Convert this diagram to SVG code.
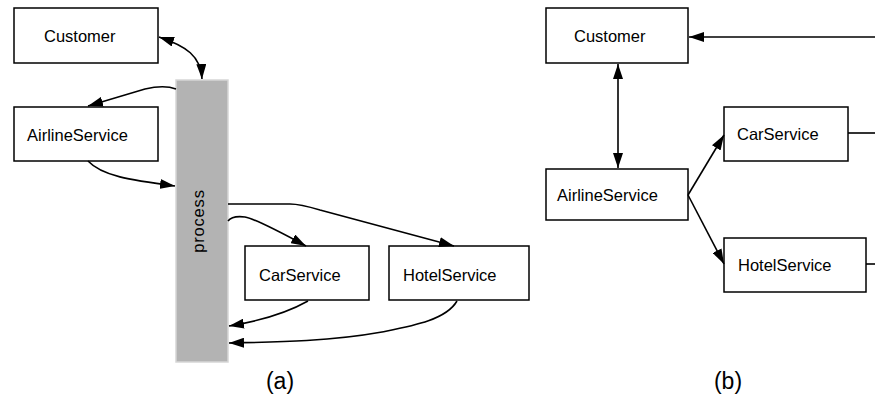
<svg xmlns="http://www.w3.org/2000/svg" width="875" height="400" viewBox="0 0 875 400">
  <style>
    .box { fill: #ffffff; stroke: #000000; stroke-width: 1.5; }
    .lbl { font-family: "Liberation Sans", Arial, Helvetica, sans-serif; font-size: 16.5px; fill: #000000; }
    .cap { font-family: "Liberation Sans", Arial, Helvetica, sans-serif; font-size: 23px; fill: #000000; text-anchor: middle; }
    .bar { fill: #b3b3b3; stroke: #d6d6d6; stroke-width: 1.5; }
    .edge { fill: none; stroke: #000000; stroke-width: 1.6; }
    .arr { marker-end: url(#head); }
    .both { marker-start: url(#head); marker-end: url(#head); }
  </style>
  <defs>
    <marker id="head" markerUnits="userSpaceOnUse" markerWidth="15" markerHeight="10" refX="15" refY="5" orient="auto-start-reverse" viewBox="0 0 15 10">
      <path d="M0,0 L15,5 L0,10 z" fill="#000000"/>
    </marker>
  </defs>
  <rect width="875" height="400" fill="#ffffff"/>

  <!-- (a): orchestration through a central process -->
  <g id="a-process">
    <rect class="bar" x="176" y="80" width="52" height="282"/>
    <text class="lbl" transform="translate(204,221) rotate(-90)" text-anchor="middle" letter-spacing="0.8">process</text>
  </g>
  <g id="a-customer">
    <rect class="box" x="14" y="8" width="144" height="55"/>
    <text class="lbl" x="44" y="42">Customer</text>
  </g>
  <g id="a-airline">
    <rect class="box" x="14" y="107" width="144" height="54"/>
    <text class="lbl" x="27" y="141">AirlineService</text>
  </g>
  <g id="a-car">
    <rect class="box" x="245" y="246" width="124" height="54"/>
    <text class="lbl" x="259" y="281">CarService</text>
  </g>
  <g id="a-hotel">
    <rect class="box" x="389" y="246" width="140" height="54"/>
    <text class="lbl" x="403" y="281">HotelService</text>
  </g>

  <!-- (b): direct choreography between services -->
  <g id="b-customer">
    <rect class="box" x="546" y="8" width="142" height="55"/>
    <text class="lbl" x="574" y="42">Customer</text>
  </g>
  <g id="b-airline">
    <rect class="box" x="546" y="169" width="142" height="51"/>
    <text class="lbl" x="557" y="201">AirlineService</text>
  </g>
  <g id="b-car">
    <rect class="box" x="724" y="107" width="124" height="54"/>
    <text class="lbl" x="737" y="140">CarService</text>
  </g>
  <g id="b-hotel">
    <rect class="box" x="724" y="238" width="142" height="54"/>
    <text class="lbl" x="738" y="271">HotelService</text>
  </g>

  <g id="connectors">
    <!-- (a) -->
    <path class="edge both" d="M159,37 C186,46 201,56 202,79"/>
    <path class="edge arr" d="M176,89 C168,86 158,86 145,89 L88,106"/>
    <path class="edge arr" d="M88,161 C102,176 130,180 175,186"/>
    <path class="edge arr" d="M228,204 L290,204 C300,204 310,207 320,210 L454,246"/>
    <path class="edge arr" d="M228,221 C231,217 237,216 245,217 C256,219 282,233 306,246"/>
    <path class="edge arr" d="M308,301 C292,310 266,320 229,326"/>
    <path class="edge arr" d="M457,301 C446,320 412,326 382,332 C332,341 282,342 229,343"/>
    <!-- (b) -->
    <path class="edge both" d="M618,64 L618,168"/>
    <path class="edge arr" d="M875,37 L689,37"/>
    <path class="edge arr" d="M688,195 L724,135"/>
    <path class="edge arr" d="M688,195 L724,264"/>
    <path class="edge" d="M848,133 L875,133"/>
    <path class="edge" d="M866,264 L875,264"/>
  </g>

  <text class="cap" x="280" y="389">(a)</text>
  <text class="cap" x="728" y="389">(b)</text>
</svg>
